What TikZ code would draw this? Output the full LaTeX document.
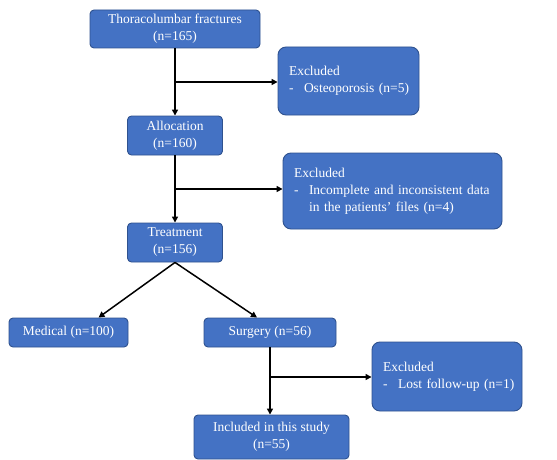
\documentclass[tikz,border=0pt]{standalone}
\usepackage{fontspec}
\setmainfont{Liberation Serif}
\usetikzlibrary{arrows.meta}
\definecolor{boxfill}{HTML}{4472C4}
\definecolor{boxline}{HTML}{2F528F}
\begin{document}
\begin{tikzpicture}[x=1pt,y=-1pt,
  flowbox/.style={draw=boxline,fill=boxfill,line width=0.9pt,rounded corners=4pt,
    text=white,font=\fontsize{13.5}{17}\selectfont,align=center,inner sep=0pt},
  exbox/.style={flowbox,rounded corners=8pt,align=left,inner xsep=11pt},
  arr/.style={line width=1.5pt,-{Triangle[length=6pt,width=6pt]}}]
\useasboundingbox[fill=white] (0,0) rectangle (557,460);
\node[flowbox,minimum width=170pt,minimum height=38pt] (t1) at (175,29) {Thoracolumbar fractures\\(n=165)};
\node[exbox,minimum width=141pt,minimum height=68pt,text width=119pt] (ex1) at (348.5,81) {Excluded\\\mbox{\makebox[15pt][l]{-}Osteoporosis (n=5)}};
\node[flowbox,minimum width=95pt,minimum height=39pt] (al) at (175,135.5) {Allocation\\(n=160)};
\node[exbox,minimum width=219pt,minimum height=76pt,text width=197pt] (ex2) at (392.5,191) {Excluded\\\mbox{\makebox[15pt][l]{-}Incomplete and inconsistent data}\\\mbox{\hspace*{15pt}in the patients’ files (n=4)}};
\node[flowbox,minimum width=95pt,minimum height=39pt] (tr) at (175,242.5) {Treatment\\(n=156)};
\node[flowbox,minimum width=119pt,minimum height=29pt] (med) at (68.5,332.5) {Medical (n=100)};
\node[flowbox,minimum width=132pt,minimum height=29pt] (sur) at (270,332.5) {Surgery (n=56)};
\node[exbox,minimum width=150pt,minimum height=69pt,text width=128pt] (ex3) at (447,376.5) {Excluded\\\mbox{\makebox[15pt][l]{-}Lost follow-up (n=1)}};
\node[flowbox,minimum width=155pt,minimum height=44pt] (inc) at (271.5,437) {Included in this study\\(n=55)};
\coordinate (b1) at (175,82);
\coordinate (b2) at (175,189);
\coordinate (b3) at (270,377);
\draw[arr] (t1.south) -- (t1.south |- al.north);
\draw[arr] (b1) -- (ex1.west |- b1);
\draw[arr] (al.south) -- (al.south |- tr.north);
\draw[arr] (b2) -- (ex2.west |- b2);
\draw[arr] (tr.south) -- ([xshift=30pt]med.north);
\draw[arr] (tr.south) -- ([xshift=-13pt]sur.north);
\draw[arr] (sur.south) -- (sur.south |- inc.north);
\draw[arr] (b3) -- (ex3.west |- b3);
\end{tikzpicture}
\end{document}
